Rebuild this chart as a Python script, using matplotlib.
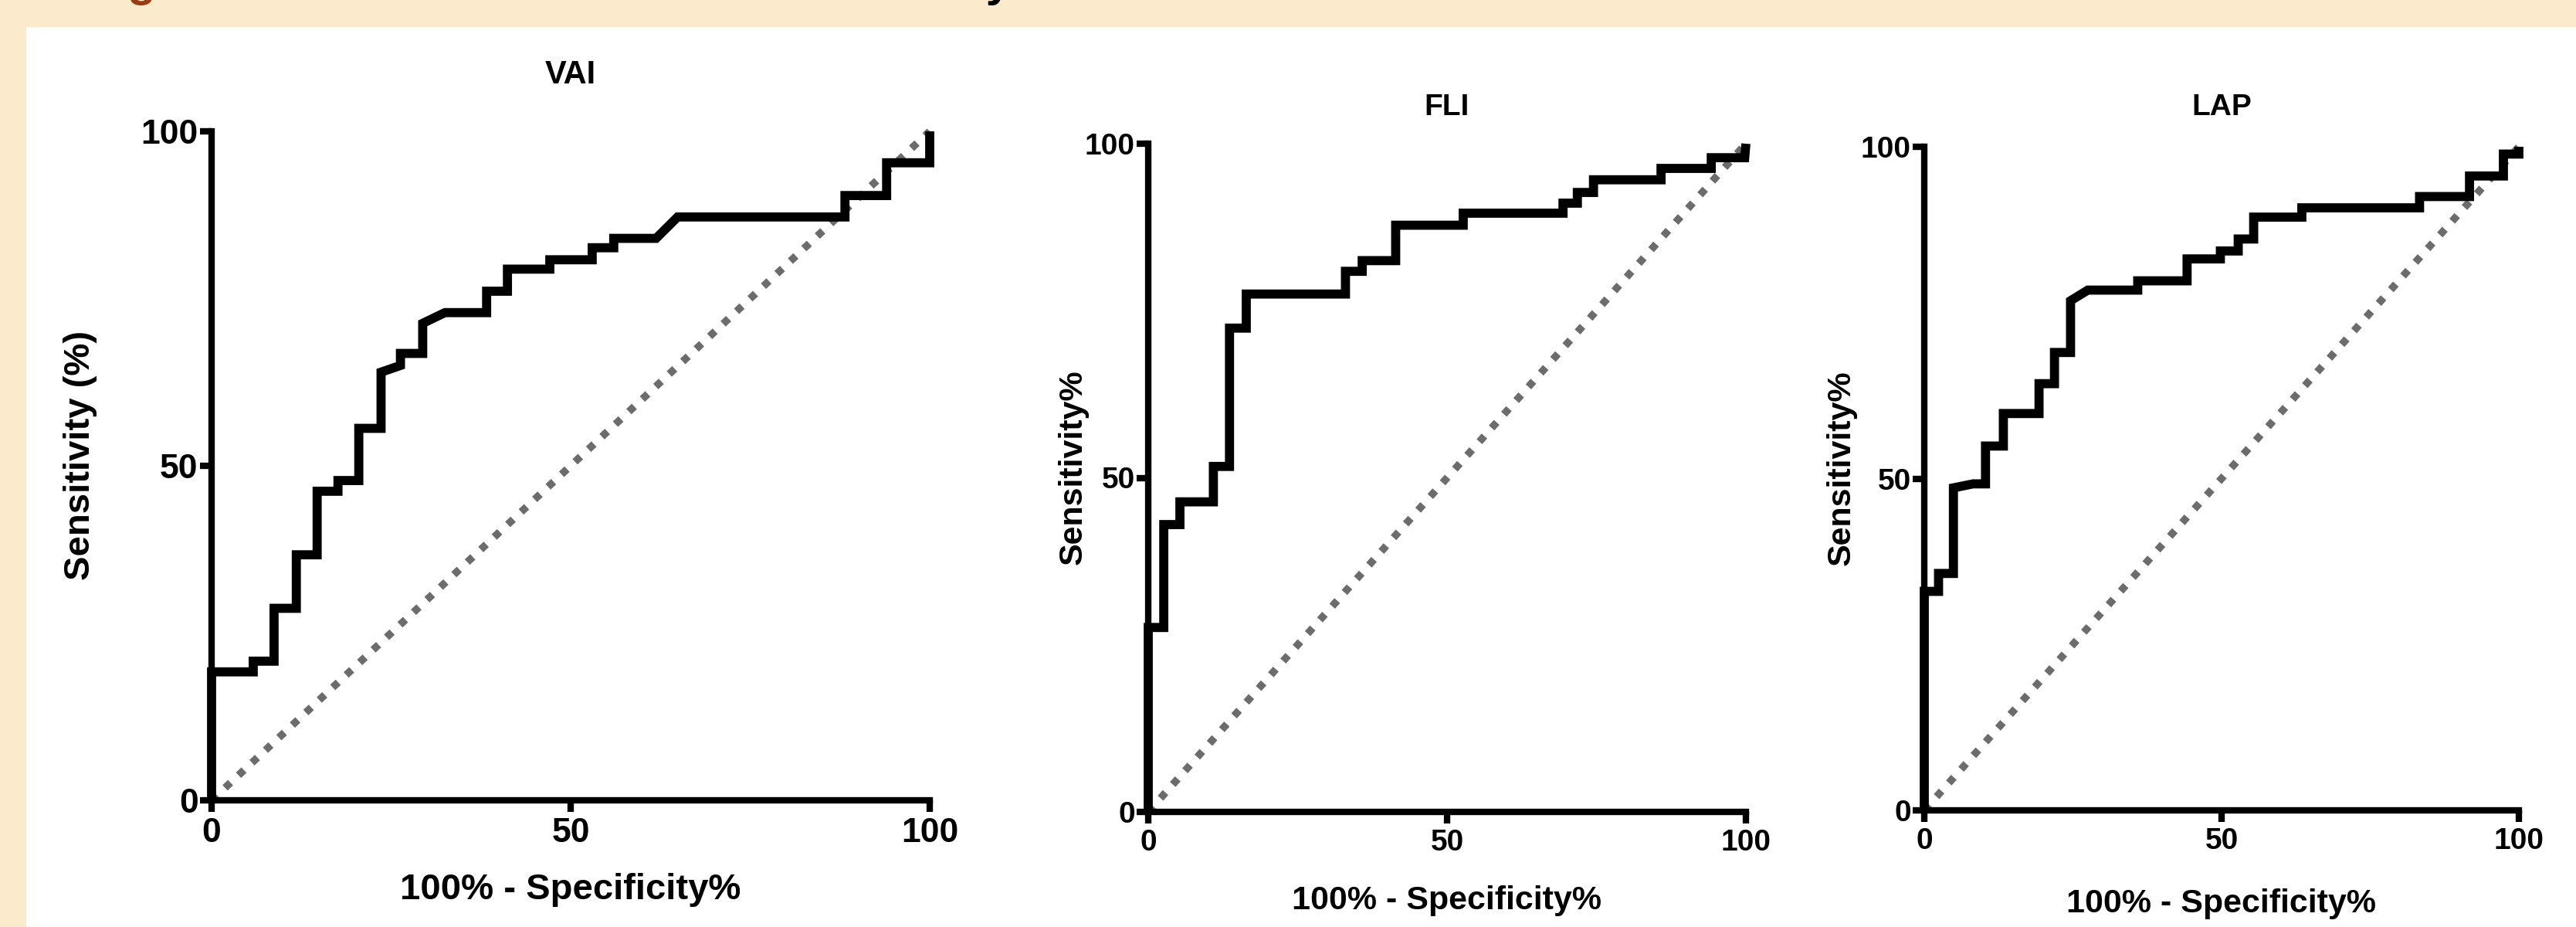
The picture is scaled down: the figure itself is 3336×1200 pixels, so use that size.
import matplotlib
matplotlib.use('Agg')
import matplotlib.pyplot as plt
from matplotlib.patches import Rectangle

plt.rcParams['font.family'] = ['Liberation Sans', 'DejaVu Sans']
plt.rcParams['font.weight'] = 'bold'

W, H = 3337, 1200
FONDO = '#FBEACC'

# ROC VAI (100% - especificidad, sensibilidad)
vai_x = [0, 0, 5.8, 5.8, 8.7, 8.7, 11.8, 11.8, 14.7, 14.7, 17.6, 17.6, 20.5, 20.5,
         23.6, 23.6, 26.3, 26.3, 29.4, 29.4, 32.5, 38.3, 38.3, 41.2, 41.2, 47.1,
         47.1, 53.0, 53.0, 56.0, 56.0, 61.9, 64.9, 88.2, 88.2, 94.0, 94.0, 100, 100]
vai_y = [0, 19.2, 19.2, 20.8, 20.8, 28.7, 28.7, 36.7, 36.7, 46.2, 46.2, 47.8, 47.8, 55.6,
         55.6, 64.0, 65.0, 66.8, 66.8, 71.3, 72.9, 72.9, 76.1, 76.1, 79.4, 79.4,
         80.8, 80.8, 82.6, 82.6, 84.0, 84.0, 87.2, 87.2, 90.4, 90.4, 95.3, 95.3, 100]

# ROC FLI
fli_x = [0, 0, 2.6, 2.6, 5.3, 5.3, 10.9, 10.9, 13.6, 13.6, 16.4, 16.4, 33.0, 33.0,
         35.8, 35.8, 41.4, 41.4, 52.7, 52.7, 69.4, 69.4, 71.8, 71.8, 74.5, 74.5,
         85.8, 85.8, 94.2, 94.2, 99.8, 100]
fli_y = [0, 27.6, 27.6, 43.0, 43.0, 46.4, 46.4, 51.7, 51.7, 72.4, 72.4, 77.5, 77.5, 80.9,
         80.9, 82.5, 82.5, 87.8, 87.8, 89.6, 89.6, 91.1, 91.1, 92.7, 92.7, 94.6,
         94.6, 96.3, 96.3, 97.9, 97.9, 100]

# ROC LAP
lap_x = [0, 0, 2.4, 2.4, 4.9, 4.9, 8.2, 10.3, 10.3, 13.3, 13.3, 19.3, 19.3, 21.9, 21.9,
         24.6, 24.6, 27.5, 35.9, 35.9, 44.2, 44.2, 49.8, 49.8, 52.8, 52.8, 55.4,
         55.4, 63.5, 63.5, 83.3, 83.3, 91.7, 91.7, 97.4, 97.4, 100, 100]
lap_y = [0, 33.0, 33.0, 35.7, 35.7, 48.6, 49.2, 49.2, 54.9, 54.9, 59.8, 59.8, 64.3, 64.3,
         69.0, 69.0, 76.8, 78.4, 78.4, 79.8, 79.8, 83.1, 83.1, 84.3, 84.3, 86.1,
         86.1, 89.4, 89.4, 90.8, 90.8, 92.5, 92.5, 95.6, 95.6, 98.9, 98.9, 100]

titulos = ['VAI', 'FLI', 'LAP']
ylabels = ['Sensitivity (%)', 'Sensitivity%', 'Sensitivity%']
xlabel = '100% - Specificity%'
ticks = [0, 50, 100]
curvas = [(vai_x, vai_y), (fli_x, fli_y), (lap_x, lap_y)]

# cajas en pixeles: izq, der, arriba(100), abajo(0)
cajas = [(274, 1204, 170, 1036), (1487, 2261, 186, 1051), (2492, 3262, 190, 1049)]
pos_titulo = [97, 139, 139]
pos_xlabel = [1152, 1166, 1170]
pos_ylabel = [104, 1390, 2385]
tam_tick = [32, 28, 28]
tam_label = [34, 31, 31]
tam_titulo = [30, 28, 28]

fig = plt.figure(figsize=(W / 100, H / 100), dpi=100, facecolor=FONDO)
fig.patches.append(Rectangle((34 / W, 0), 1, 1 - 35 / H, transform=fig.transFigure,
                             facecolor='white', edgecolor='none', zorder=-5))

# restos del titulo de la figura, cortados por el borde superior
fig.text(112 / W, 1 + 5 / H, 'Figure 2', color='#9C3A12', fontsize=43,
         fontweight='bold', va='baseline', ha='left')
fig.text(1310 / W, 1 + 5 / H, 'ROC curves and accuracy', color='black', fontsize=43,
         fontweight='bold', va='baseline', ha='right')

for i, (cx, cy) in enumerate(curvas):
    l, r, t, b = cajas[i]
    ax = fig.add_axes([l / W, 1 - b / H, (r - l) / W, (b - t) / H], zorder=2)
    ax.set_facecolor('none')

    ax.plot([0, 100], [0, 100], color='#6c6c6c', lw=7, dashes=(1, 1.45),
            dash_capstyle='butt', clip_on=False, zorder=2)
    ax.plot(cx, cy, color='black', lw=8.5, solid_joinstyle='miter',
            solid_capstyle='butt', clip_on=False, zorder=3)

    ax.set_xlim(0, 100)
    ax.set_ylim(0, 100)
    ax.set_xticks(ticks)
    ax.set_yticks(ticks)
    for s in ['top', 'right']:
        ax.spines[s].set_visible(False)
    for s in ['left', 'bottom']:
        ax.spines[s].set_linewidth(6)
        ax.spines[s].set_capstyle('projecting')
    ax.tick_params(axis='both', width=6, length=11, labelsize=tam_tick[i], direction='out')
    ax.tick_params(axis='x', pad=5)
    ax.tick_params(axis='y', pad=1.5)
    for lab in ax.get_xticklabels() + ax.get_yticklabels():
        lab.set_fontweight('bold')

    alto = b - t
    ancho = r - l
    ax.text(0.5, (b - pos_titulo[i]) / alto, titulos[i], transform=ax.transAxes,
            ha='center', va='center', fontsize=tam_titulo[i], fontweight='bold')
    ax.set_xlabel(xlabel, fontsize=tam_label[i], fontweight='bold', va='center')
    ax.xaxis.set_label_coords(0.5, (b - pos_xlabel[i]) / alto)
    ax.set_ylabel(ylabels[i], fontsize=tam_label[i], fontweight='bold', va='center')
    ax.yaxis.set_label_coords((pos_ylabel[i] - l) / ancho, 0.516)

fig.savefig('out.png', dpi=100, facecolor=FONDO)
